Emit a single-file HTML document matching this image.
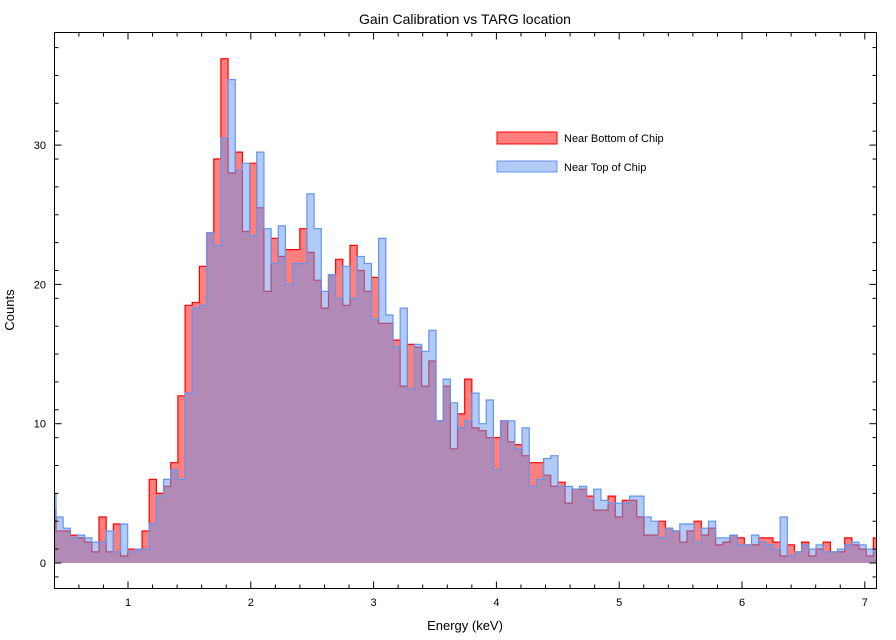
<!DOCTYPE html>
<html><head><meta charset="utf-8"><style>
html,body{margin:0;padding:0;background:#fff;}
svg{display:block;font-family:"Liberation Sans",sans-serif;}
</style></head><body>
<svg id="s" width="896" height="640" xmlns="http://www.w3.org/2000/svg">
<rect width="896" height="640" fill="#fff"/>
<g id="hist"></g>
<g id="axes" stroke="#000" fill="none"></g>
<rect x="54.5" y="32.5" width="822" height="556" fill="none" stroke="#000"/>
<text x="465" y="24" font-size="14" text-anchor="middle">Gain Calibration vs TARG location</text>
<text x="465" y="630" font-size="13" text-anchor="middle">Energy (keV)</text>
<text transform="translate(14,310) rotate(-90)" font-size="13" text-anchor="middle">Counts</text>
<rect x="497" y="132" width="60" height="12" fill="rgba(255,0,0,0.5)" stroke="red"/>
<text x="564" y="142" font-size="11">Near Bottom of Chip</text>
<rect x="497" y="161" width="60" height="11" fill="rgba(100,149,237,0.5)" stroke="#6495ed"/>
<text x="564" y="171" font-size="11">Near Top of Chip</text>
<g id="lab" font-size="11" text-anchor="middle"></g>
</svg>
<script>
var R=[3.8,2.3,2.3,2.0,1.8,1.5,0.8,3.3,0.8,2.8,0.5,1.0,1.0,2.3,6.0,5.0,5.5,7.2,12.0,18.5,18.7,21.3,23.7,29.0,36.2,28.0,29.5,23.8,28.7,25.5,19.5,23.3,22.0,22.5,22.5,24.0,22.3,20.3,18.3,20.7,21.8,18.5,22.8,21.0,19.5,20.5,17.2,17.2,16.0,12.7,15.7,15.5,12.7,14.5,10.2,12.7,8.2,10.7,13.2,9.7,9.5,9.0,9.0,10.2,8.7,8.5,7.7,7.2,7.2,6.3,5.5,5.8,4.3,5.3,5.3,4.8,3.8,3.8,4.8,3.3,4.5,4.5,3.3,2.0,2.0,3.0,2.5,2.3,1.5,2.3,3.0,2.0,2.5,1.3,1.5,2.0,1.8,1.3,1.3,1.8,1.8,1.5,0.5,1.3,0.8,1.5,0.5,1.0,1.5,0.8,0.8,1.8,1.3,1.0,0.5,1.8];
var B=[5.0,3.3,2.5,1.8,2.0,1.8,1.5,1.5,2.3,0.8,2.8,0.8,1.0,1.0,2.8,4.8,6.0,6.7,6.0,12.2,18.3,18.5,23.7,22.8,30.5,34.7,28.2,28.7,23.5,29.5,24.0,21.5,24.2,20.0,21.5,21.5,26.5,24.0,19.5,20.7,19.0,21.3,19.0,22.0,21.5,17.5,23.3,17.8,15.5,18.3,12.5,15.7,15.2,16.7,10.2,13.2,11.5,9.7,10.2,12.2,10.0,11.7,6.7,10.2,10.2,8.2,9.7,5.5,6.0,7.5,7.7,5.5,5.5,5.3,5.5,4.5,5.3,4.5,4.3,4.3,4.3,4.8,4.8,3.3,3.0,1.8,2.5,2.3,2.8,2.8,1.5,2.5,3.0,1.8,1.8,2.0,1.3,1.3,2.0,1.5,1.3,1.0,3.3,0.5,0.8,1.3,1.0,1.3,0.8,0.8,1.0,1.3,1.5,1.3,1.0,0.8];
var base=563,k=13.93,x0=56,w=7.17,L=54.5,Rt=876.5;
function y(v){return base-v*k;}
function path(a,close){var d="M"+L+","+(close?base:y(a[0]))+(close?" V"+y(a[0]):"")+" H"+x0;
 for(var i=1;i<a.length;i++){d+=" V"+y(a[i]).toFixed(1)+" H"+Math.min(Rt,x0+w*i).toFixed(2);}
 d=d.replace(/H[0-9.]+$/,"H"+Rt);
 if(close)d+=" V"+base+" Z";return d;}
var ns="http://www.w3.org/2000/svg",g=document.getElementById("hist");
function add(tag,at,par){var e=document.createElementNS(ns,tag);for(var a in at)e.setAttribute(a,at[a]);(par||g).appendChild(e);return e;}
add("path",{d:path(R,true),fill:"rgba(255,0,0,0.5)",stroke:"none"});
add("path",{d:path(R,false),fill:"none",stroke:"#f00","stroke-width":1.2});
add("path",{d:path(B,true),fill:"rgba(100,149,237,0.5)",stroke:"none"});
add("path",{d:path(B,false),fill:"none",stroke:"#6495ed","stroke-width":1.2});
var ax=document.getElementById("axes"),lab=document.getElementById("lab");
function X(e){return 128+(e-1)*122.8;}
for(var e=0.4;e<=7.1;e+=0.2){var xx=X(e);if(xx<55||xx>876)continue;var maj=Math.abs(e-Math.round(e))<0.01;var l=maj?7:4;
 add("line",{x1:xx,x2:xx,y1:588.5,y2:588.5-l},ax);add("line",{x1:xx,x2:xx,y1:32.5,y2:32.5+l},ax);
 if(maj){var t=add("text",{x:xx,y:606},lab);t.textContent=Math.round(e);}}
for(var c=-1;c<=38;c+=2){var yy=y(c);if(yy<33||yy>588)continue;var maj=c%10==0;var l=maj?7:4;
 add("line",{x1:54.5,x2:54.5+l,y1:yy,y2:yy},ax);add("line",{x1:876.5,x2:876.5-l,y1:yy,y2:yy},ax);}
for(var c=0;c<=30;c+=2){if(c%10)continue;var yy=y(c);
 add("line",{x1:54.5,x2:61.5,y1:yy,y2:yy},ax);add("line",{x1:876.5,x2:869.5,y1:yy,y2:yy},ax);
 var t=add("text",{x:46,y:yy+4,"text-anchor":"end"},lab);t.textContent=c;}
</script>
</body></html>
